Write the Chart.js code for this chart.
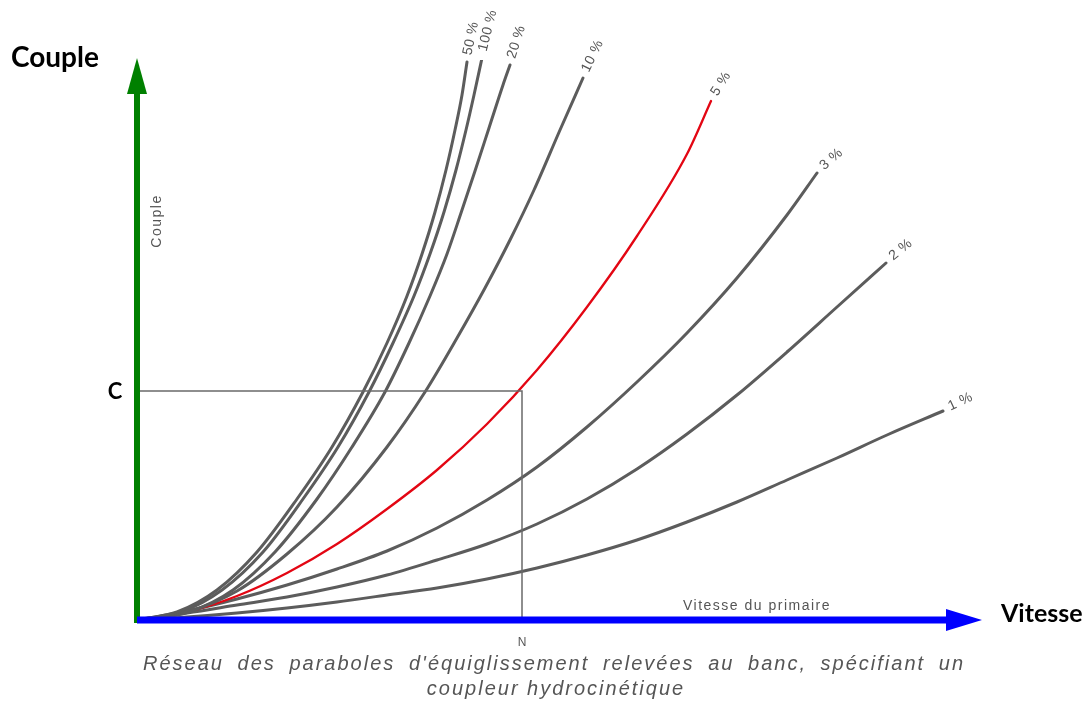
<!DOCTYPE html>
<html>
<head>
<meta charset="utf-8">
<script src="https://cdn.jsdelivr.net/npm/chart.js@4.4.1/dist/chart.umd.min.js"></script>
<style>
  body { margin: 0; background: #fff; }
  canvas { display: block; }
</style>
</head>
<body>
<canvas id="chart" width="1087" height="707"></canvas>
<script>
// valeurs (vitesse -> x, couple -> y)
const slipLabels = ['50 %', '100 %', '20 %', '10 %', '5 %', '3 %', '2 %', '1 %'];

const slip50X = [0, 40, 80, 120, 160, 195, 226, 250, 270, 285, 298, 309, 318, 325, 330];
const slip50Y = [0, 8, 30, 68, 121, 173, 228, 277, 324, 366, 408, 450, 490, 525, 558];

const slip100X = [0, 44, 85, 126, 166, 201, 232, 256, 277, 293, 307, 319, 329, 337, 345];
const slip100Y = [0, 8, 30, 68, 121, 173, 228, 277, 324, 366, 408, 450, 490, 525, 562];

const slip20X = [0, 52, 96, 138, 180, 215, 248, 272, 293, 310, 324, 338, 352, 366, 373];
const slip20Y = [0, 8, 30, 68, 121, 173, 228, 277, 324, 366, 407, 449, 492, 535, 555];

const slip10X = [0, 50, 100, 150, 200, 250, 288, 320, 348, 373, 397, 423, 446];
const slip10Y = [0, 8, 29, 66, 113, 173, 228, 282, 332, 380, 430, 490, 542];

const slip5X = [0, 50, 100, 150, 200, 250, 300, 350, 400, 450, 500, 550, 574];
const slip5Y = [0, 8, 24, 47, 76, 111, 150, 196, 250, 313, 384, 466, 519];

const slip3X = [0, 50, 100, 150, 200, 250, 300, 350, 400, 450, 500, 550, 600, 650, 680];
const slip3Y = [0, 9, 21, 35, 51, 69, 92, 120, 153, 193, 238, 287, 342, 405, 447];

const slip2X = [0, 50, 100, 150, 200, 250, 300, 350, 400, 450, 500, 550, 600, 650, 700, 749];
const slip2Y = [0, 7, 15, 23, 33, 45, 60, 76, 96, 121, 151, 186, 225, 268, 313, 357];

const slip1X = [0, 50, 100, 150, 200, 250, 300, 350, 400, 450, 500, 550, 600, 650, 700, 750, 806];
const slip1Y = [0, 3, 7, 12, 18, 25, 32, 41, 52, 65, 80, 98, 118, 140, 162, 185, 209];

// point de fonctionnement (N, C)
const pointN = 385;
const pointC = 229;

const xMax = 850;
const yMax = 560;

const allX = [slip50X, slip100X, slip20X, slip10X, slip5X, slip3X, slip2X, slip1X];
const allY = [slip50Y, slip100Y, slip20Y, slip10Y, slip5Y, slip3Y, slip2Y, slip1Y];
const labelAngles = [-78, -76, -72, -64, -57, -41, -39, -25];

const toPoints = (xs, ys) => xs.map((x, i) => ({ x: x, y: ys[i] }));

const datasets = [{
  label: 'repere',
  data: [{ x: 0, y: pointC }, { x: pointN, y: pointC }, { x: pointN, y: 0 }],
  borderColor: '#6a6a6a',
  borderWidth: 1.5,
  tension: 0
}];

slipLabels.forEach((lab, i) => {
  const red = lab === '5 %';
  datasets.push({
    label: lab,
    data: toPoints(allX[i], allY[i]),
    borderColor: red ? '#e30613' : '#5c5c5c',
    borderWidth: red ? 2.3 : 3,
    cubicInterpolationMode: 'monotone',
    borderCapStyle: 'round'
  });
});

const overlay = {
  id: 'overlay',
  afterDatasetsDraw(chart) {
    const ctx = chart.ctx;
    const sx = chart.scales.x, sy = chart.scales.y;
    const x0 = sx.getPixelForValue(0), y0 = sy.getPixelForValue(0);
    const top = sy.getPixelForValue(yMax), right = sx.getPixelForValue(xMax);
    ctx.save();

    // étiquettes des courbes
    ctx.fillStyle = '#555';
    ctx.font = '14px "Liberation Sans", Arial, sans-serif';
    ctx.letterSpacing = '0.5px';
    ctx.textBaseline = 'middle';
    ctx.textAlign = 'left';
    slipLabels.forEach((lab, i) => {
      const meta = chart.getDatasetMeta(i + 1);
      const last = meta.data[meta.data.length - 1];
      ctx.save();
      ctx.translate(last.x, last.y);
      ctx.rotate(labelAngles[i] * Math.PI / 180);
      ctx.fillText(lab, 7, -1);
      ctx.restore();
    });
    ctx.letterSpacing = '0px';

    // axe vertical (vert)
    ctx.fillStyle = '#008000';
    ctx.fillRect(x0 - 3, top + 30, 6, y0 + 3 - (top + 30));
    ctx.beginPath();
    ctx.moveTo(x0, top - 2);
    ctx.lineTo(x0 + 10, top + 34);
    ctx.lineTo(x0 - 10, top + 34);
    ctx.closePath();
    ctx.fill();

    // axe horizontal (bleu)
    ctx.fillStyle = '#0000ff';
    ctx.fillRect(x0, y0 - 3.5, right - 40 - x0, 7);
    ctx.beginPath();
    ctx.moveTo(right - 5, y0);
    ctx.lineTo(right - 41, y0 - 11);
    ctx.lineTo(right - 41, y0 + 11);
    ctx.closePath();
    ctx.fill();

    // titres manuscrits
    ctx.fillStyle = '#000';
    ctx.textAlign = 'left';
    ctx.textBaseline = 'alphabetic';
    ctx.font = 'bold 28px Lato, "DejaVu Sans", sans-serif';
    ctx.fillText('Couple', 11, 67);
    ctx.font = 'bold 25px Lato, "DejaVu Sans", sans-serif';
    ctx.fillText('Vitesse', 1001, 622);
    ctx.font = 'bold 22px Lato, "DejaVu Sans", sans-serif';
    ctx.textAlign = 'center';
    ctx.fillText('C', 115, sy.getPixelForValue(pointC) + 8);

    // textes gris de la figure d'origine
    ctx.fillStyle = '#555';
    ctx.font = '12px "Liberation Sans", Arial, sans-serif';
    ctx.fillText('N', sx.getPixelForValue(pointN), y0 + 26);

    ctx.letterSpacing = '1.5px';
    ctx.font = '14px "Liberation Sans", Arial, sans-serif';
    ctx.textAlign = 'center';
    ctx.fillText('Vitesse du primaire', 757, y0 - 10);

    ctx.save();
    ctx.translate(x0 + 20, 221);
    ctx.rotate(-Math.PI / 2);
    ctx.textBaseline = 'middle';
    ctx.fillText('Couple', 0, 0);
    ctx.restore();

    // légende en italique, première ligne justifiée
    ctx.font = 'italic 20px "Liberation Sans", Arial, sans-serif';
    ctx.letterSpacing = '2px';
    const words = 'Réseau des paraboles d\'équiglissement relevées au banc, spécifiant un'.split(' ');
    const left = 143, width = 822;
    const used = words.reduce((s, w) => s + ctx.measureText(w).width, 0);
    const gap = (width - used) / (words.length - 1);
    let cx = left;
    ctx.textAlign = 'left';
    words.forEach(w => {
      ctx.fillText(w, cx, 670);
      cx += ctx.measureText(w).width + gap;
    });
    ctx.textAlign = 'center';
    ctx.fillText('coupleur hydrocinétique', 556, 695);

    ctx.restore();
  }
};

new Chart(document.getElementById('chart'), {
  type: 'scatter',
  data: { datasets: datasets },
  options: {
    responsive: false,
    animation: false,
    showLine: true,
    layout: { padding: { left: 137, right: 100, top: 60, bottom: 87 } },
    elements: { point: { radius: 0, hoverRadius: 0 } },
    plugins: { legend: { display: false }, tooltip: { enabled: false } },
    scales: {
      x: { type: 'linear', min: 0, max: xMax, display: false },
      y: { type: 'linear', min: 0, max: yMax, display: false }
    }
  },
  plugins: [overlay]
});
</script>
</body>
</html>
